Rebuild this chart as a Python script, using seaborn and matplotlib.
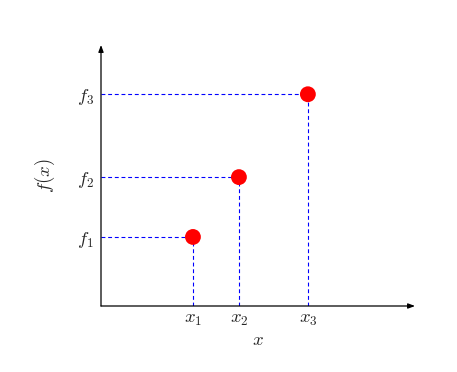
import matplotlib
matplotlib.use("Agg")
import matplotlib.pyplot as plt
import seaborn as sns
import pandas as pd

x_vals = [2.0, 3.0, 4.5]
f_vals = [1.5, 2.8, 4.6]
x_labels = ["$x_1$", "$x_2$", "$x_3$"]
f_labels = ["$f_1$", "$f_2$", "$f_3$"]

sns.set_style("white")
plt.rcParams["mathtext.fontset"] = "cm"
plt.rcParams["font.family"] = ["DejaVu Serif"]

fig = plt.figure(figsize=(4.57, 3.72), dpi=100)
ax = fig.add_axes([101 / 457, 66 / 372, 314 / 457, 261 / 372])

xmax, ymax = 6.83, 5.67
ax.set_xlim(0, xmax)
ax.set_ylim(0, ymax)

df = pd.DataFrame({"x": x_vals, "f": f_vals})

# dashed guide lines
ax.vlines(x_vals, 0, f_vals, colors="blue", linestyles=(0, (3.5, 2.5)), linewidth=0.8)
ax.hlines(f_vals, 0, x_vals, colors="blue", linestyles=(0, (3.5, 2.5)), linewidth=0.8)

sns.scatterplot(data=df, x="x", y="f", ax=ax, color="red", s=130, edgecolor="none", zorder=5, clip_on=False)

for s in ax.spines.values():
    s.set_visible(False)

# axes with arrows
ax.annotate("", xy=(xmax, 0), xytext=(0, 0),
            arrowprops=dict(arrowstyle="-|>,head_length=0.4,head_width=0.15", color="black", lw=0.9,
                            shrinkA=0, shrinkB=0), annotation_clip=False)
ax.annotate("", xy=(0, ymax), xytext=(0, 0),
            arrowprops=dict(arrowstyle="-|>,head_length=0.4,head_width=0.15", color="black", lw=0.9,
                            shrinkA=0, shrinkB=0), annotation_clip=False)

ax.set_xticks(x_vals)
ax.set_xticklabels(x_labels, fontsize=13.5)
ax.set_yticks(f_vals)
ax.set_yticklabels(f_labels, fontsize=13.5)
ax.tick_params(axis="x", length=0, pad=3)
ax.tick_params(axis="y", length=0, pad=5)

ax.set_xlabel("$x$", fontsize=13.5, labelpad=2)
ax.set_ylabel("$f(x)$", fontsize=13.5, labelpad=14)

fig.savefig("out.png", dpi=100)
